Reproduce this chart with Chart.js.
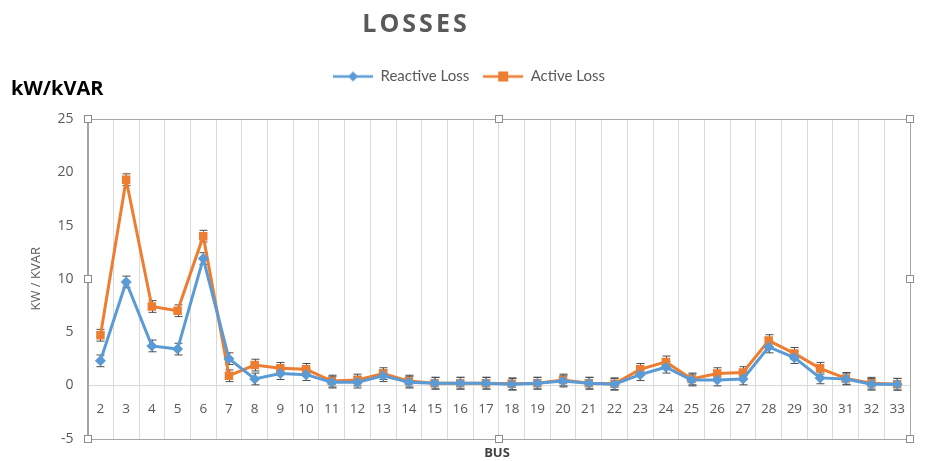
<!DOCTYPE html>
<html>
<head>
<meta charset="utf-8">
<script src="https://cdn.jsdelivr.net/npm/chart.js@4.4.1/dist/chart.umd.min.js"></script>
<style>
  html, body { margin: 0; padding: 0; background: #fff; }
  #wrap { position: relative; width: 925px; height: 461px; }
  #titre {
    position: absolute; left: 316px; top: 5px; width: 200px; text-align: center;
    font: bold 25px "Open Sans", sans-serif; color: #595959; letter-spacing: 3px;
  }
  #unite {
    position: absolute; left: 11px; top: 74px;
    font: bold 20px "Open Sans", sans-serif; color: #000;
  }
  #bus {
    position: absolute; left: 447px; top: 443px; width: 100px; text-align: center;
    font: bold 13px "Open Sans", sans-serif; color: #404040;
  }
</style>
</head>
<body>
<div id="wrap">
  <canvas id="graphe" width="925" height="461"></canvas>
  <div id="titre">LOSSES</div>
  <div id="unite">kW/kVAR</div>
  <div id="bus">BUS</div>
</div>
<script>
// ================================
// DONNEES
// ================================

const BUS = ['2','3','4','5','6','7','8','9','10','11','12','13','14','15','16','17',
             '18','19','20','21','22','23','24','25','26','27','28','29','30','31','32','33'];

const PERTES_REACTIVES = [2.3, 9.7, 3.7, 3.4, 11.9, 2.5, 0.6, 1.1, 1.0, 0.3, 0.3, 0.9, 0.3, 0.2, 0.2, 0.2,
                          0.1, 0.2, 0.4, 0.2, 0.1, 1.0, 1.7, 0.5, 0.5, 0.6, 3.6, 2.6, 0.7, 0.6, 0.1, 0.1];

const PERTES_ACTIVES = [4.7, 19.3, 7.4, 7.0, 14.0, 0.9, 1.9, 1.6, 1.5, 0.4, 0.5, 1.1, 0.4, 0.2, 0.2, 0.2,
                        0.15, 0.2, 0.5, 0.2, 0.15, 1.5, 2.2, 0.6, 1.1, 1.2, 4.2, 3.0, 1.6, 0.65, 0.2, 0.1];

const ERREUR = 0.55;

const Y_TICKS = [25, 20, 15, 10, 5, 0, -5];

const BLEU = '#5b9bd5';
const ORANGE = '#ed7d31';
const GRIS_TEXTE = '#595959';

// ================================
// LEGENDE (ligne + marqueur)
// ================================

function symboleLegende(couleur, forme) {
  const c = document.createElement('canvas');
  c.width = 40; c.height = 12;
  const ctx = c.getContext('2d');
  ctx.strokeStyle = couleur;
  ctx.lineWidth = 2.5;
  ctx.beginPath(); ctx.moveTo(0, 6); ctx.lineTo(40, 6); ctx.stroke();
  ctx.fillStyle = couleur;
  if (forme === 'carre') {
    ctx.fillRect(15, 1, 10, 10);
  } else {
    ctx.beginPath();
    ctx.moveTo(20, 1); ctx.lineTo(25, 6); ctx.lineTo(20, 11); ctx.lineTo(15, 6);
    ctx.closePath(); ctx.fill();
  }
  return c;
}

// ================================
// PLUGIN : barres d'erreur + cadre
// ================================

const pluginCadre = {
  id: 'cadre',
  beforeInit(chart) {
    // plus d'espace sous la legende
    const fitOrig = chart.legend.fit;
    chart.legend.fit = function() {
      fitOrig.bind(chart.legend)();
      this.height += 25;
    };
  },
  beforeDatasetsDraw(chart) {
    const ctx = chart.ctx;
    const x = chart.scales.x, y = chart.scales.y;
    ctx.save();
    ctx.strokeStyle = '#4d4d4d';
    ctx.lineWidth = 1;
    chart.data.datasets.forEach(function(ds) {
      ds.data.forEach(function(v, i) {
        const px = Math.round(x.getPixelForValue(i)) + 0.5;
        const haut = y.getPixelForValue(v + ERREUR);
        const bas = y.getPixelForValue(v - ERREUR);
        ctx.beginPath();
        ctx.moveTo(px, haut); ctx.lineTo(px, bas);
        ctx.moveTo(px - 4, haut); ctx.lineTo(px + 4, haut);
        ctx.moveTo(px - 4, bas); ctx.lineTo(px + 4, bas);
        ctx.stroke();
      });
    });
    ctx.restore();
  },
  afterDraw(chart) {
    const ctx = chart.ctx;
    const a = chart.chartArea;
    ctx.save();
    ctx.strokeStyle = '#a6a6a6';
    ctx.lineWidth = 1;
    ctx.strokeRect(Math.round(a.left) + 0.5, Math.round(a.top) + 0.5,
                   Math.round(a.right - a.left), Math.round(a.bottom - a.top));
    // poignees de selection
    const mx = (a.left + a.right) / 2, my = (a.top + a.bottom) / 2;
    const pts = [[a.left, a.top], [mx, a.top], [a.right, a.top], [a.left, my],
                 [a.right, my], [a.left, a.bottom], [mx, a.bottom], [a.right, a.bottom]];
    ctx.fillStyle = '#fff';
    ctx.strokeStyle = '#8c8c8c';
    pts.forEach(function(p) {
      const px = Math.round(p[0]) - 3.5, py = Math.round(p[1]) - 3.5;
      ctx.fillRect(px, py, 7, 7);
      ctx.strokeRect(px, py, 7, 7);
    });
    ctx.restore();
  }
};

// ================================
// GRAPHIQUE
// ================================

new Chart(document.getElementById('graphe'), {
  type: 'line',
  data: {
    labels: BUS,
    datasets: [{
      label: 'Reactive Loss',
      data: PERTES_REACTIVES,
      borderColor: BLEU,
      backgroundColor: BLEU,
      borderWidth: 3,
      pointStyle: 'rectRot',
      pointRadius: 5.5,
      pointBorderWidth: 0,
      tension: 0
    }, {
      label: 'Active Loss',
      data: PERTES_ACTIVES,
      borderColor: ORANGE,
      backgroundColor: ORANGE,
      borderWidth: 3,
      pointStyle: 'rect',
      pointRadius: 6,
      pointBorderWidth: 0,
      tension: 0
    }]
  },
  options: {
    responsive: false,
    animation: false,
    layout: { padding: { top: 55, left: 28, right: 15, bottom: -2 } },
    scales: {
      x: {
        position: { y: 0 },
        offset: true,
        grid: { offset: true, color: '#d9d9d9', drawTicks: false },
        border: { color: '#d9d9d9' },
        ticks: { color: GRIS_TEXTE, font: { family: 'Open Sans', size: 13.5 }, padding: 16, maxRotation: 0, autoSkip: false }
      },
      y: {
        min: -5,
        max: 25,
        afterBuildTicks: function(axe) { axe.ticks = Y_TICKS.map(function(v) { return { value: v }; }); },
        grid: { display: false, drawTicks: false },
        border: { color: '#a6a6a6' },
        ticks: { color: GRIS_TEXTE, font: { family: 'Open Sans', size: 14 }, padding: 14 },
        title: { display: true, text: 'KW / KVAR', color: GRIS_TEXTE, font: { family: 'Open Sans', size: 13 }, padding: { top: 0, bottom: 0 } }
      }
    },
    plugins: {
      legend: {
        position: 'top',
        labels: {
          usePointStyle: true,
          pointStyleWidth: 40,
          color: GRIS_TEXTE,
          font: { family: 'Lato', size: 15 },
          padding: 14,
          generateLabels: function(chart) {
            return chart.data.datasets.map(function(ds, i) {
              return {
                text: ds.label,
                datasetIndex: i,
                fontColor: GRIS_TEXTE,
                pointStyle: symboleLegende(ds.borderColor, i === 1 ? 'carre' : 'losange'),
                lineWidth: 0,
                strokeStyle: 'transparent',
                fillStyle: ds.borderColor
              };
            });
          }
        }
      },
      tooltip: { enabled: false }
    }
  },
  plugins: [pluginCadre]
});
</script>
</body>
</html>
